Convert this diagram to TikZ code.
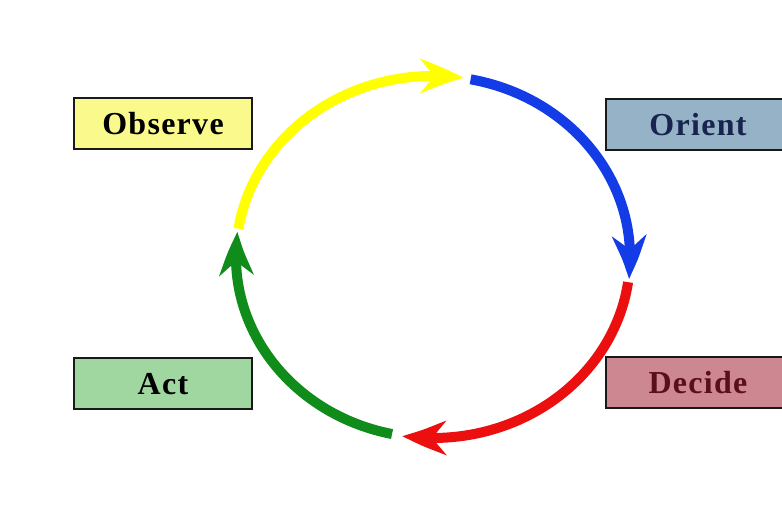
\documentclass[tikz,border=0pt]{standalone}
\usepackage{fontspec}
\setmainfont{Liberation Serif}
\usetikzlibrary{arrows.meta,bending}

\definecolor{obsfill}{RGB}{250,250,140}
\definecolor{orifill}{RGB}{150,178,198}
\definecolor{actfill}{RGB}{160,215,160}
\definecolor{decfill}{RGB}{205,135,145}
\definecolor{oritext}{RGB}{25,35,80}
\definecolor{dectext}{RGB}{90,15,25}
\definecolor{ylw}{RGB}{255,255,0}
\definecolor{blu}{RGB}{20,60,230}
\definecolor{rd}{RGB}{235,15,15}
\definecolor{grn}{RGB}{15,140,25}

\begin{document}
\begin{tikzpicture}[x=1pt,y=1pt,
  phase/.style={draw=black!90, line width=2pt, minimum height=51pt,
    inner sep=0pt,
    font=\fontsize{32}{32}\selectfont\bfseries\addfontfeature{LetterSpace=4}},
  loopstep/.style={line width=10pt,
    -{Stealth[length=44pt,width=34pt,inset=14pt,bend]}}]
\useasboundingbox (0,0) rectangle (782,511);
\clip (0,0) rectangle (782,511);
\fill[white] (0,0) rectangle (782,511);

% the four phase boxes
\node[phase, fill=obsfill, minimum width=178pt] (observe) at (163,387) {Observe};
\node[phase, fill=orifill, minimum width=184pt, text=oritext] (orient) at (698,386) {Orient};
\node[phase, fill=actfill, minimum width=178pt] (act) at (163,127) {Act};
\node[phase, fill=decfill, minimum width=184pt, text=dectext] (decide) at (698,128) {Decide};

% the loop: four clockwise arcs of one ellipse
\coordinate (c) at (433,254);
\coordinate (obsStart) at ([shift={(171:197 and 181)}]c);
\coordinate (oriStart) at ([shift={(79:197 and 181)}]c);
\coordinate (decStart) at ([shift={(-8:197 and 181)}]c);
\coordinate (actStart) at ([shift={(-102:197 and 181)}]c);
\draw[loopstep, ylw] (obsStart)
  arc[start angle=171, end angle=81, x radius=197, y radius=181];
\draw[loopstep, blu] (oriStart)
  arc[start angle=79, end angle=-7, x radius=197, y radius=181];
\draw[loopstep, rd] (decStart)
  arc[start angle=-8, end angle=-99, x radius=197, y radius=181];
\draw[loopstep, grn] (actStart)
  arc[start angle=258, end angle=172, x radius=197, y radius=181];
\end{tikzpicture}
\end{document}
